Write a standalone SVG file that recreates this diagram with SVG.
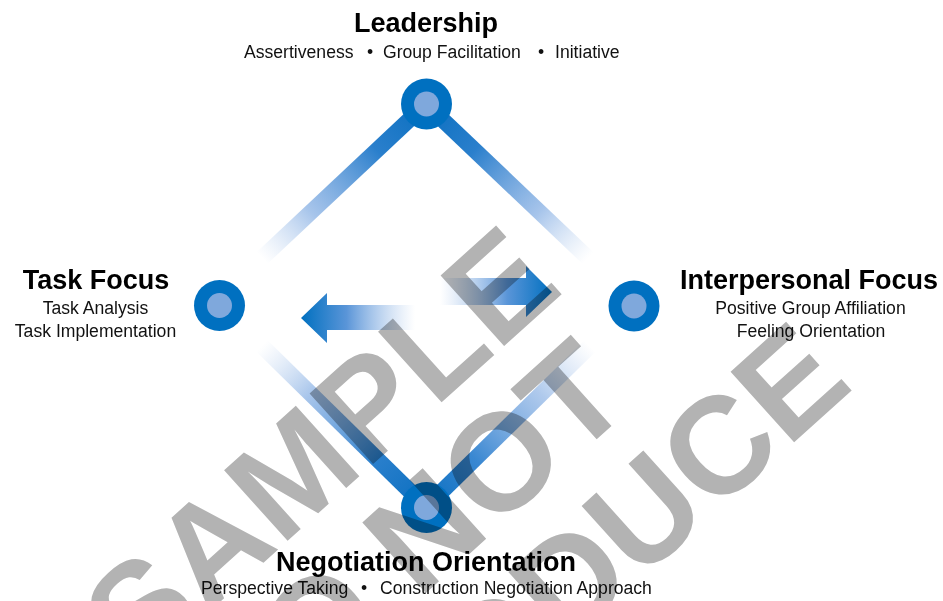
<svg xmlns="http://www.w3.org/2000/svg" width="943" height="601" viewBox="0 0 943 601">
<defs>
<style>
.t{font-family:"Liberation Sans",Arial,sans-serif;font-weight:bold;font-size:27px;fill:#000;text-anchor:middle}
.s{font-family:"Liberation Sans",Arial,sans-serif;font-size:17.6px;fill:#111}
.m{text-anchor:middle}
.outer{fill:#0070c0}
.inner{fill:#7fa8dc}
.ln{stroke-width:16;fill:none;stroke-linecap:butt}
.wm{font-family:"Liberation Sans",Arial,sans-serif;font-weight:bold;font-size:138px;fill:#b3b3b3;text-anchor:middle}
</style>
<linearGradient id="gUL" gradientUnits="userSpaceOnUse" x1="426" y1="104" x2="262" y2="258">
<stop offset="0" stop-color="#0a6fc0"/><stop offset="0.3" stop-color="#2a7fcc"/><stop offset="0.7" stop-color="#6b9ddd" stop-opacity="0.6"/><stop offset="1" stop-color="#9dbde8" stop-opacity="0"/>
</linearGradient>
<linearGradient id="gUR" gradientUnits="userSpaceOnUse" x1="426" y1="104" x2="588" y2="258">
<stop offset="0" stop-color="#0a6fc0"/><stop offset="0.3" stop-color="#2a7fcc"/><stop offset="0.7" stop-color="#6b9ddd" stop-opacity="0.6"/><stop offset="1" stop-color="#9dbde8" stop-opacity="0"/>
</linearGradient>
<linearGradient id="gBL" gradientUnits="userSpaceOnUse" x1="426" y1="507" x2="262" y2="346">
<stop offset="0" stop-color="#0a6fc0"/><stop offset="0.3" stop-color="#2a7fcc"/><stop offset="0.7" stop-color="#6b9ddd" stop-opacity="0.6"/><stop offset="1" stop-color="#9dbde8" stop-opacity="0"/>
</linearGradient>
<linearGradient id="gBR" gradientUnits="userSpaceOnUse" x1="426" y1="507" x2="590" y2="346">
<stop offset="0" stop-color="#0a6fc0"/><stop offset="0.3" stop-color="#3a88d2"/><stop offset="0.7" stop-color="#7aa6e0" stop-opacity="0.6"/><stop offset="1" stop-color="#9dbde8" stop-opacity="0"/>
</linearGradient>
<linearGradient id="gAR" gradientUnits="userSpaceOnUse" x1="440" y1="0" x2="552" y2="0">
<stop offset="0" stop-color="#9dbde8" stop-opacity="0"/><stop offset="0.6" stop-color="#5a95d8"/><stop offset="1" stop-color="#0070c0"/>
</linearGradient>
<linearGradient id="gAL" gradientUnits="userSpaceOnUse" x1="301" y1="0" x2="415" y2="0">
<stop offset="0" stop-color="#0070c0"/><stop offset="0.4" stop-color="#5a95d8"/><stop offset="1" stop-color="#9dbde8" stop-opacity="0"/>
</linearGradient>
</defs>
<rect width="943" height="601" fill="#fff"/>
<g id="connectors">
<line class="ln" x1="426" y1="104" x2="262" y2="258" stroke="url(#gUL)"/>
<line class="ln" x1="426" y1="104" x2="588" y2="258" stroke="url(#gUR)"/>
<line class="ln" x1="426" y1="507" x2="262" y2="346" stroke="url(#gBL)"/>
<line class="ln" x1="426" y1="507" x2="590" y2="346" stroke="url(#gBR)"/>
</g>
<g id="arrows">
<path d="M440 278 H526 V266 L552 292 L526 317 V305 H440 Z" fill="url(#gAR)"/>
<path d="M415 305 H327 V293 L301 318 L327 343 V330 H415 Z" fill="url(#gAL)"/>
</g>
<g id="leadership">
<circle class="outer" cx="426.5" cy="104" r="25.5"/><circle class="inner" cx="426.5" cy="104" r="12.5"/>
<text class="t" x="426" y="32">Leadership</text>
<text class="s" y="58"><tspan x="244">Assertiveness</tspan><tspan x="370" class="m">•</tspan><tspan x="383">Group Facilitation</tspan><tspan x="541" class="m">•</tspan><tspan x="555">Initiative</tspan></text>
</g>
<g id="task-focus">
<circle class="outer" cx="219.5" cy="305.5" r="25.5"/><circle class="inner" cx="219.5" cy="305.5" r="12.5"/>
<text class="t" x="96" y="289">Task Focus</text>
<text class="s m" x="95.5" y="314">Task Analysis</text>
<text class="s m" x="95.5" y="337">Task Implementation</text>
</g>
<g id="interpersonal-focus">
<circle class="outer" cx="634" cy="306" r="25.5"/><circle class="inner" cx="634" cy="306" r="12.5"/>
<text class="t" x="809" y="289">Interpersonal Focus</text>
<text class="s m" x="810.5" y="314">Positive Group Affiliation</text>
<text class="s m" x="811" y="337">Feeling Orientation</text>
</g>
<g id="negotiation-orientation">
<circle class="outer" cx="426.5" cy="507.5" r="25.5"/><circle class="inner" cx="426.5" cy="507.5" r="12.5"/>
<text class="t" x="426" y="571">Negotiation Orientation</text>
<text class="s" y="594"><tspan x="201">Perspective Taking</tspan><tspan x="364" class="m">•</tspan><tspan x="380">Construction Negotiation Approach</tspan></text>
</g>
<g id="watermark" style="mix-blend-mode:multiply">
<text class="wm" transform="translate(352 483) rotate(-42)">SAMPLE</text>
<text class="wm" transform="translate(436 584) rotate(-42)">DO NOT</text>
<text class="wm" transform="translate(528 682) rotate(-42)">REPRODUCE</text>
</g>
</svg>
